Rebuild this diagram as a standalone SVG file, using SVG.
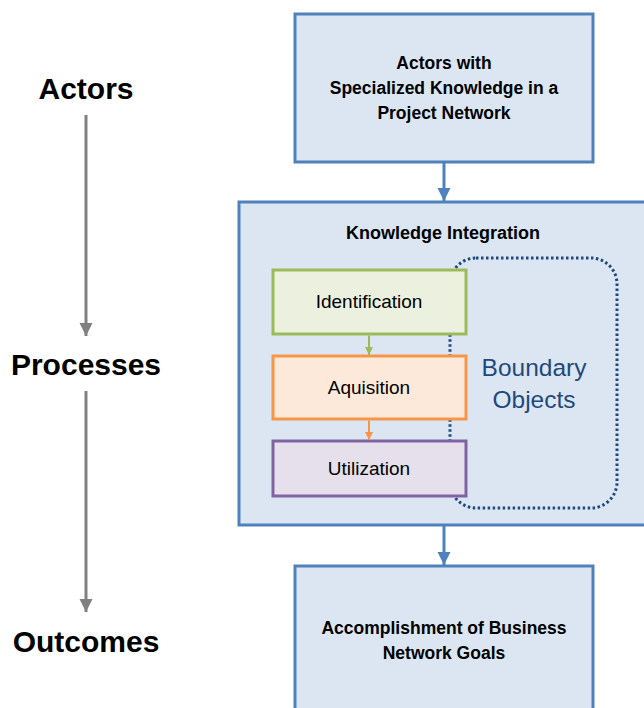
<svg xmlns="http://www.w3.org/2000/svg" width="644" height="708" viewBox="0 0 644 708">
  <defs>
    <style>
      .stage { font-family: "Liberation Sans", Arial, sans-serif; font-weight: bold; font-size: 30px; fill: #000; text-anchor: middle; }
      .box { fill: #DCE6F2; stroke: #4F81BD; stroke-width: 3; }
      .boxlabel { font-family: "Liberation Sans", Arial, sans-serif; font-weight: bold; font-size: 17.5px; fill: #000; text-anchor: middle; }
      .title { font-family: "Liberation Sans", Arial, sans-serif; font-weight: bold; font-size: 18px; fill: #000; text-anchor: middle; }
      .steplabel { font-family: "Liberation Sans", Arial, sans-serif; font-size: 19px; fill: #000; text-anchor: middle; }
      .bo { font-family: "Liberation Sans", Arial, sans-serif; font-size: 24.5px; fill: #1F497D; text-anchor: middle; }
      .gray { stroke: #808080; stroke-width: 3; fill: none; }
      .blue { stroke: #4F81BD; stroke-width: 3; fill: none; }
    </style>
    <marker id="ahGray" viewBox="0 0 10 10" refX="10" refY="5" markerWidth="4.5" markerHeight="4.5" markerUnits="strokeWidth" orient="auto">
      <path d="M0,0 L10,5 L0,10 Z" fill="#808080"/>
    </marker>
    <marker id="ahBlue" viewBox="0 0 10 10" refX="10" refY="5" markerWidth="4.5" markerHeight="4.5" markerUnits="strokeWidth" orient="auto">
      <path d="M0,0 L10,5 L0,10 Z" fill="#4F81BD"/>
    </marker>
    <marker id="ahGreen" viewBox="0 0 10 10" refX="10" refY="5" markerWidth="4" markerHeight="4" markerUnits="strokeWidth" orient="auto">
      <path d="M0,0 L10,5 L0,10 Z" fill="#9BBB59"/>
    </marker>
    <marker id="ahOrange" viewBox="0 0 10 10" refX="10" refY="5" markerWidth="4" markerHeight="4" markerUnits="strokeWidth" orient="auto">
      <path d="M0,0 L10,5 L0,10 Z" fill="#F79646"/>
    </marker>
  </defs>

  <rect width="644" height="708" fill="#ffffff"/>

  <!-- stage labels on the left -->
  <g id="stage-actors"><text class="stage" x="86" y="99">Actors</text></g>
  <g id="stage-processes"><text class="stage" x="86" y="375">Processes</text></g>
  <g id="stage-outcomes"><text class="stage" x="86" y="652">Outcomes</text></g>

  <!-- main boxes -->
  <g id="actors-box">
    <rect class="box" x="295" y="14" width="298" height="148"/>
    <text class="boxlabel" x="444" y="69">Actors with</text>
    <text class="boxlabel" x="444" y="94">Specialized Knowledge in a</text>
    <text class="boxlabel" x="444" y="119">Project Network</text>
  </g>

  <g id="knowledge-integration">
    <rect class="box" x="239" y="202" width="420" height="323"/>
    <text class="title" x="443" y="239">Knowledge Integration</text>
  </g>

  <g id="boundary-objects">
    <rect x="450" y="258" width="167" height="250" rx="26" ry="26" fill="none" stroke="#1F497D" stroke-width="3" stroke-dasharray="2.5 2.5"/>
    <text class="bo" x="534" y="376">Boundary</text>
    <text class="bo" x="534" y="408">Objects</text>
  </g>

  <g id="identification">
    <rect x="273" y="270" width="193" height="64" fill="#EBF1DE" stroke="#9BBB59" stroke-width="3"/>
    <text class="steplabel" x="369" y="308">Identification</text>
  </g>
  <g id="aquisition">
    <rect x="273" y="356" width="193" height="63" fill="#FDE9D9" stroke="#F79646" stroke-width="3"/>
    <text class="steplabel" x="369" y="394">Aquisition</text>
  </g>
  <g id="utilization">
    <rect x="273" y="441" width="193" height="55" fill="#E5E0EC" stroke="#8064A2" stroke-width="3"/>
    <text class="steplabel" x="369" y="475">Utilization</text>
  </g>

  <g id="outcomes-box">
    <rect class="box" x="295" y="566" width="298" height="160"/>
    <text class="boxlabel" x="444" y="634">Accomplishment of Business</text>
    <text class="boxlabel" x="444" y="659">Network Goals</text>
  </g>

  <!-- connectors -->
  <g id="connectors">
    <line class="gray" x1="86" y1="115" x2="86" y2="336" marker-end="url(#ahGray)"/>
    <line class="gray" x1="86" y1="391" x2="86" y2="612" marker-end="url(#ahGray)"/>
    <line class="blue" x1="444" y1="163" x2="444" y2="201" marker-end="url(#ahBlue)"/>
    <line class="blue" x1="444" y1="526" x2="444" y2="565" marker-end="url(#ahBlue)"/>
    <line x1="369" y1="335.5" x2="369" y2="355" stroke="#9BBB59" stroke-width="2" marker-end="url(#ahGreen)"/>
    <line x1="369" y1="420.5" x2="369" y2="440" stroke="#F79646" stroke-width="2" marker-end="url(#ahOrange)"/>
  </g>
</svg>
